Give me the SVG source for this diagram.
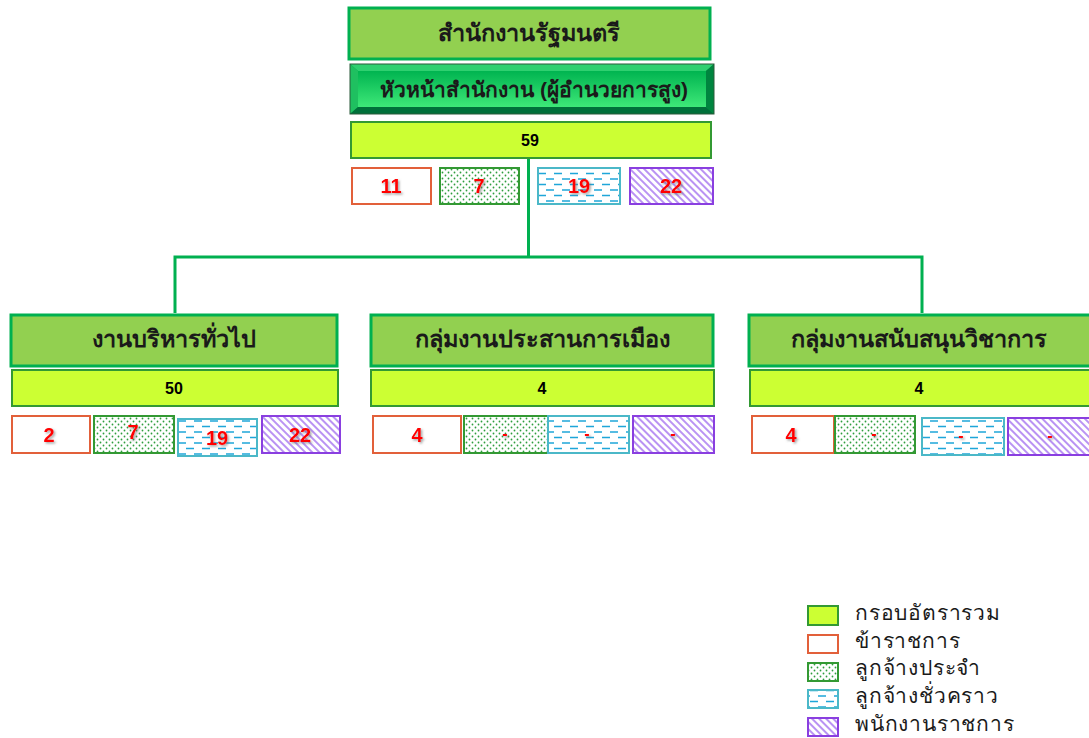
<svg xmlns="http://www.w3.org/2000/svg" width="1089" height="738" viewBox="0 0 1089 738">
<style>
.t{font-family:"Liberation Sans","Noto Sans",sans-serif;font-weight:bold;text-anchor:middle;fill:#1a1a1a}
.title{font-size:23.5px}
.tot{font-size:16px;fill:#000}
.num{font-size:20px;fill:#ff0000;filter:url(#sh)}
.dash{font-size:16px;fill:#ff0000;filter:url(#sh)}
.lg{font-family:"Liberation Sans","Noto Sans",sans-serif;font-size:21px;letter-spacing:0.8px;fill:#1a1a1a}
.head{fill:#92d050;stroke:#00b050;stroke-width:3}
.total{fill:#ccff33;stroke:#339933;stroke-width:2}
.c1{fill:#fff;stroke:#e2603a;stroke-width:2}
.c2{fill:url(#dots);stroke:#339933;stroke-width:2}
.c3{fill:url(#dsh);stroke:#4bb8c8;stroke-width:2}
.c4{fill:url(#diag);stroke:#8a3fe0;stroke-width:2}
.conn{fill:none;stroke:#00b050;stroke-width:3}
</style>
<defs>
<filter id="sh" x="-20%" y="-20%" width="150%" height="150%"><feDropShadow dx="1.5" dy="1.5" stdDeviation="0.8" flood-color="#666" flood-opacity="0.6"/></filter>
<pattern id="dots" patternUnits="userSpaceOnUse" width="6" height="6"><rect width="6" height="6" fill="#fff"/><circle cx="1.5" cy="1.5" r="0.9" fill="#2e9e3e"/><circle cx="4.5" cy="4.5" r="0.9" fill="#2e9e3e"/></pattern>
<pattern id="dsh" patternUnits="userSpaceOnUse" width="16" height="11"><rect width="16" height="11" fill="#fff"/><path d="M2 3H10M-6 8.5H2M10 8.5H18" stroke="#1ea6d9" stroke-width="1.6"/></pattern>
<pattern id="diag" patternUnits="userSpaceOnUse" width="5" height="5" patternTransform="rotate(-45)"><rect width="5" height="5" fill="#fff"/><line x1="1" y1="0" x2="1" y2="5" stroke="#a878f0" stroke-width="1.6"/></pattern>
<linearGradient id="face" x1="0" y1="0" x2="0" y2="1"><stop offset="0" stop-color="#00b450"/><stop offset="1" stop-color="#3ee878"/></linearGradient>
</defs>

<g id="connectors">
<path class="conn" d="M528.5 158V257M175 313V257H922V313"/>
</g>

<g id="office">
<rect class="head" x="349" y="8" width="361" height="51"/>
<text class="t title" x="529" y="41">สำนักงานรัฐมนตรี</text>
</g>

<g id="chief">
<rect x="350" y="64" width="364" height="50" fill="#00a048"/>
<polygon points="350,64 714,64 706,71 358,71" fill="#2fd070"/>
<polygon points="350,64 358,71 358,107 350,114" fill="#1fc060"/>
<polygon points="350,114 358,107 706,107 714,114" fill="#00703a"/>
<polygon points="714,64 706,71 706,107 714,114" fill="#00853f"/>
<rect x="358" y="71" width="348" height="36" fill="url(#face)"/>
<rect x="350" y="64" width="364" height="50" fill="none" stroke="#2a5a3a" stroke-width="1"/>
<text class="t" x="534" y="97" font-size="21">หัวหน้าสำนักงาน (ผู้อำนวยการสูง)</text>
</g>

<g id="total-main">
<rect class="total" x="351" y="122" width="360" height="36"/>
<text class="t tot" x="530" y="146">59</text>
<rect class="c1" x="352" y="168" width="79" height="36"/>
<text class="t num" x="391" y="193">11</text>
<rect class="c2" x="440" y="168" width="79" height="36"/>
<text class="t num" x="479" y="193">7</text>
<rect class="c3" x="538" y="168" width="82" height="36"/>
<text class="t num" x="579" y="193">19</text>
<rect class="c4" x="630" y="168" width="83" height="36"/>
<text class="t num" x="671" y="193">22</text>
</g>

<g id="general">
<rect class="head" x="11" y="315" width="326" height="51"/>
<text class="t title" x="174" y="347">งานบริหารทั่วไป</text>
<rect class="total" x="12" y="370" width="326" height="36"/>
<text class="t tot" x="174" y="394">50</text>
<rect class="c1" x="12" y="416" width="78" height="37"/>
<text class="t num" x="49" y="442">2</text>
<rect class="c2" x="94" y="416" width="80" height="37"/>
<text class="t num" x="133" y="439">7</text>
<rect class="c3" x="178" y="419" width="79" height="37"/>
<text class="t num" x="217" y="445">19</text>
<rect class="c4" x="262" y="416" width="78" height="37"/>
<text class="t num" x="300" y="442">22</text>
</g>

<g id="political">
<rect class="head" x="371" y="315" width="342" height="51"/>
<text class="t title" x="542" y="347">กลุ่มงานประสานการเมือง</text>
<rect class="total" x="371" y="370" width="343" height="36"/>
<text class="t tot" x="542" y="394">4</text>
<rect class="c1" x="373" y="416" width="88" height="37"/>
<text class="t num" x="417" y="442">4</text>
<rect class="c2" x="464" y="416" width="84" height="37"/>
<text class="t dash" x="505" y="439">-</text>
<rect class="c3" x="548" y="416" width="81" height="37"/>
<text class="t dash" x="587" y="439">-</text>
<rect class="c4" x="633" y="416" width="81" height="37"/>
<text class="t dash" x="673" y="439">-</text>
</g>

<g id="academic">
<rect class="head" x="749" y="315" width="345" height="51"/>
<text class="t title" x="919" y="347">กลุ่มงานสนับสนุนวิชาการ</text>
<rect class="total" x="750" y="370" width="345" height="36"/>
<text class="t tot" x="919" y="394">4</text>
<rect class="c1" x="752" y="416" width="82" height="37"/>
<text class="t num" x="791" y="442">4</text>
<rect class="c2" x="835" y="416" width="80" height="37"/>
<text class="t dash" x="874" y="439">-</text>
<rect class="c3" x="922" y="418" width="82" height="37"/>
<text class="t dash" x="961" y="441">-</text>
<rect class="c4" x="1008" y="418" width="85" height="37"/>
<text class="t dash" x="1050" y="441">-</text>
</g>

<g id="legend">
<rect class="total" x="808" y="606" width="30" height="19"/>
<text class="lg" x="855" y="620">กรอบอัตรารวม</text>
<rect class="c1" x="808" y="635" width="30" height="18"/>
<text class="lg" x="855" y="648">ข้าราชการ</text>
<rect class="c2" x="808" y="663" width="30" height="18"/>
<text class="lg" x="855" y="675">ลูกจ้างประจำ</text>
<rect class="c3" x="808" y="690" width="30" height="18"/>
<text class="lg" x="855" y="703">ลูกจ้างชั่วคราว</text>
<rect class="c4" x="808" y="718" width="30" height="18"/>
<text class="lg" x="855" y="731">พนักงานราชการ</text>
</g>
</svg>
